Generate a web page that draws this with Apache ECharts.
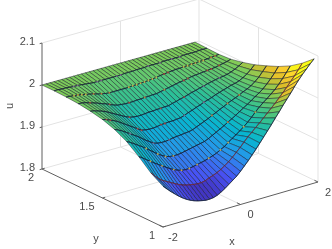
<!DOCTYPE html>
<html><head><meta charset="utf-8">
<style>html,body{margin:0;padding:0;background:#fff}#c{width:332px;height:249px;filter:blur(.35px)}</style>
<script src="https://cdn.jsdelivr.net/npm/echarts@6/dist/echarts.min.js"></script>
</head><body><div id="c"></div>
<script>
const xValues=[-2,-1.9,-1.8,-1.7,-1.6,-1.5,-1.4,-1.3,-1.2,-1.1,-1,-.9,-.8,-.7,-.6,-.5,-.4,-.3,-.2,-.1,0,.1,.2,.3,.4,.5,.6,.7,.8,.9,1,1.1,1.2,1.3,1.4,1.5,1.6,1.7,1.8,1.9];
const yValues=[2,1.9,1.8,1.7,1.6,1.5,1.4,1.3,1.2,1.1,1];
const u20=[2,2,2,2,2,2,2,2,2,2,2,2,2,2,2,2,2,2,2,2,2,2,2,2,2,2,2,2,2,2,2,2,2,2,2,2,2,2,2,2];
const u19=[2.000,2.000,1.999,1.999,1.998,1.997,1.997,1.996,1.995,1.994,1.993,1.993,1.993,1.993,1.993,1.993,1.993,1.993,1.994,1.994,1.994,1.995,1.995,1.995,1.996,1.996,1.996,1.996,1.997,1.997,1.997,1.997,1.997,1.998,1.998,1.998,1.998,1.999,1.999,1.999];
const u18=[1.999,1.998,1.997,1.996,1.994,1.992,1.990,1.988,1.985,1.983,1.981,1.980,1.980,1.980,1.980,1.980,1.980,1.981,1.981,1.982,1.982,1.983,1.984,1.985,1.987,1.988,1.989,1.990,1.991,1.991,1.992,1.992,1.993,1.993,1.994,1.994,1.995,1.996,1.997,1.998];
const u17=[1.997,1.996,1.994,1.991,1.988,1.985,1.981,1.978,1.974,1.970,1.967,1.966,1.965,1.965,1.965,1.966,1.966,1.967,1.967,1.968,1.968,1.970,1.972,1.974,1.976,1.978,1.980,1.981,1.983,1.985,1.986,1.987,1.988,1.989,1.990,1.991,1.993,1.995,1.997,2.000];
const u16=[1.993,1.991,1.988,1.985,1.981,1.976,1.971,1.966,1.961,1.956,1.952,1.950,1.949,1.949,1.950,1.951,1.951,1.952,1.952,1.953,1.953,1.956,1.958,1.961,1.963,1.966,1.969,1.971,1.974,1.976,1.979,1.981,1.983,1.985,1.986,1.988,1.991,1.995,2.000,2.006];
const u15=[1.987,1.984,1.980,1.976,1.971,1.965,1.959,1.953,1.947,1.941,1.935,1.933,1.932,1.932,1.933,1.935,1.935,1.936,1.936,1.937,1.938,1.941,1.945,1.948,1.952,1.955,1.959,1.962,1.965,1.969,1.972,1.975,1.978,1.981,1.983,1.986,1.991,1.997,2.005,2.014];
const u14=[1.977,1.973,1.968,1.962,1.956,1.950,1.944,1.937,1.930,1.924,1.918,1.915,1.914,1.914,1.915,1.917,1.918,1.919,1.920,1.921,1.923,1.927,1.931,1.935,1.939,1.944,1.948,1.953,1.957,1.962,1.966,1.970,1.974,1.979,1.983,1.988,1.995,2.003,2.014,2.025];
const u13=[1.962,1.957,1.951,1.945,1.939,1.932,1.925,1.918,1.911,1.905,1.900,1.897,1.896,1.896,1.897,1.899,1.901,1.903,1.905,1.907,1.909,1.913,1.918,1.923,1.928,1.933,1.939,1.944,1.950,1.956,1.962,1.968,1.974,1.981,1.987,1.994,2.003,2.013,2.024,2.037];
const u12=[1.940,1.934,1.927,1.921,1.914,1.908,1.902,1.896,1.890,1.885,1.881,1.878,1.877,1.877,1.879,1.881,1.883,1.885,1.888,1.891,1.895,1.900,1.905,1.912,1.919,1.925,1.932,1.939,1.947,1.956,1.966,1.975,1.983,1.990,1.998,2.006,2.016,2.027,2.039,2.052];
const u11=[1.915,1.905,1.896,1.889,1.884,1.879,1.874,1.869,1.865,1.862,1.860,1.858,1.857,1.857,1.859,1.863,1.866,1.870,1.875,1.881,1.888,1.896,1.905,1.914,1.924,1.934,1.942,1.951,1.959,1.968,1.977,1.986,1.995,2.005,2.015,2.025,2.036,2.047,2.059,2.072];
const u10=[1.897,1.888,1.879,1.871,1.863,1.856,1.850,1.845,1.841,1.838,1.836,1.834,1.834,1.835,1.838,1.843,1.849,1.856,1.863,1.870,1.879,1.889,1.899,1.910,1.921,1.933,1.945,1.957,1.969,1.982,1.994,2.007,2.019,2.031,2.044,2.056,2.067,2.077,2.087,2.096];
const uRows=[u20,u19,u18,u17,u16,u15,u14,u13,u12,u11,u10];
const xTicks=[-2,0,2], yTicks=[1,1.5,2], uTicks=[1.8,1.9,2,2.1];
const xTickLabels=['-2','0','2'], yTickLabels=['1','1.5','2'], uTickLabels=['1.8','1.9','2','2.1'];
// small specks where a second surface pokes through: row value y, column values x
const speckYellow=[[1.8,[-1.8,-1.7,-1.6,-1.5,-.4,-.3,-.2,-.1,0,.1,.2,.3,1,1.1,1.2,1.3,1.4,1.5]],[1.3,[-1.5,-1.2,-1,-.8]],[1.2,[-1.7,-1.4,-1.1,-.9,-.7,-.5,-.2,.1,.3,.7,1]]];
const speckOrange=[[1.8,[-1.3,-1.1,-.9,1.7,1.8]],[1.7,[-.3,.2]],[1.4,[.5,.9,1.2]],[1.3,[.6]]];
const speckRed=[[1.8,[.5,.6]],[1.7,[-1.7,-1.2,-.7,.7,.8,1.3,1.4,1.6]],[1.6,[-1,-.2,.4]],[1.5,[-1.9,-1.8,-1.1,-1,-.5,-.4]]];
const speckPurple=[[1.9,[-1.5,-1.4,-.9,-.8,-.4,-.3,.4,.7,1,1.2]],[1.6,[.9,1.3]],[1.5,[.1,.6]],[1.4,[-1.6,-1,-.6]]];

const floorL=[42,169],floorF=[163,227],floorR=[318,182],floorB=[199,125],pxPerU=420;
function project(x,y,u){
  const t=(x+2)/4,s=2-y;
  const w=[(1-t)*(1-s),(1-t)*s,t*s,t*(1-s)];
  const c=[floorL,floorF,floorR,floorB];
  let px=0,py=0;
  c.forEach((p,i)=>{px+=w[i]*p[0];py+=w[i]*p[1];});
  return [px,py-(u-1.8)*pxPerU];
}
const parula=['#3e26a8','#4852f4','#2796eb','#08b5d0','#2cc097','#80cc59','#dcbd29','#fccf30','#f9fb15'];
const uMin=1.834,uMid=2,uTop=2.06,tMid=.625;
function colorOf(u){
  const t=u<uMid?(u-uMin)/(uMid-uMin)*tMid:tMid+(u-uMid)/(uTop-uMid)*(1-tMid);
  return echarts.color.lerp(Math.min(1,Math.max(0,t)),parula);
}

const cells=[];
for(let j=0;j<yValues.length-1;j++)for(let i=xValues.length-2;i>=0;i--){
  cells.push([i,j]);
}
function line(pts,color,width,z){return {type:'line',data:pts.map(p=>project(p[0],p[1],p[2])),showSymbol:false,silent:true,z:z,lineStyle:{color:color,width:width},animation:false};}
const grey='#e3e3e3',axisC='#5f5f5f';
const series=[];
[[[-2,2,2.1],[2,2,2.1],[2,1,2.1]],[[2,2,1.8],[2,2,2.1]],[[2,1,1.8],[2,1,2.1]],[[-2,2,1.8],[2,2,1.8],[2,1,1.8]],
 [[0,2,1.8],[0,2,2.1]],[[2,1.5,1.8],[2,1.5,2.1]],[[0,2,1.8],[0,1,1.8]],[[-2,1.5,1.8],[2,1.5,1.8]],
 [[-2,2,1.9],[2,2,1.9],[2,1,1.9]],[[-2,2,2],[2,2,2],[2,1,2]]].forEach(p=>series.push(line(p,grey,1,1)));
[[[-2,2,1.8],[-2,2,2.1]],[[-2,2,1.8],[-2,1,1.8]],[[-2,1,1.8],[2,1,1.8]]].forEach(p=>series.push(line(p,axisC,1,2)));
uTicks.forEach(u=>series.push(line([[-2,2,u],[-2.06,2,u]],axisC,1,2)));
xTicks.forEach(x=>series.push(line([[x,1,1.8],[x,1.03,1.8]],axisC,1,2)));
yTicks.forEach(y=>series.push(line([[-2,y,1.8],[-1.93,y,1.8]],axisC,1,2)));

series.push({type:'custom',coordinateSystem:'cartesian2d',z:3,silent:true,animation:false,progressive:0,
  data:cells,
  renderItem:function(params,api){
    const i=api.value(0),j=api.value(1);
    const u00=uRows[j][i],u10=uRows[j][i+1],u01=uRows[j+1][i],u11=uRows[j+1][i+1];
    const pts=[project(xValues[i],yValues[j],u00),project(xValues[i+1],yValues[j],u10),project(xValues[i+1],yValues[j+1],u11),project(xValues[i],yValues[j+1],u01)].map(p=>api.coord(p));
    return {type:'polygon',shape:{points:pts},style:{fill:colorOf((u00+u10+u01+u11)/4),stroke:'rgba(10,10,25,.72)',lineWidth:.6}};
  }});
yValues.forEach((y,j)=>{ if(j>0) series.push(line(xValues.map((x,i)=>[x,y,uRows[j][i]]),j==9?'#8a2a3a':'#10203a',.7,4)); });
function specks(list,color){
  const data=[];
  list.forEach(r=>{const j=yValues.indexOf(r[0]);r[1].forEach(x=>{const i=xValues.indexOf(x);if(i>=0)data.push(project(x,r[0],uRows[j][i]));});});
  series.push({type:'scatter',data:data,symbolSize:1.9,silent:true,z:5,animation:false,itemStyle:{color:color}});
}
specks(speckYellow,'#ecc64a');specks(speckOrange,'#e08a3c');specks(speckRed,'#c0453c');specks(speckPurple,'#8f6f9c');

const textItems=[];
xTicks.forEach((x,i)=>{const p=project(x,1,1.8);textItems.push([p[0]+10,p[1]+10.5,xTickLabels[i],'center']);});
yTicks.forEach((y,i)=>{const p=project(-2,y,1.8);textItems.push([p[0]-8,p[1]+9,yTickLabels[i],'right']);});
uTicks.forEach((u,i)=>{const p=project(-2,2,u);textItems.push([p[0]-7,p[1]-1,uTickLabels[i],'right']);});
textItems.push([96,239,'y','center'],[232,242,'x','center']);
series.push({type:'custom',coordinateSystem:'cartesian2d',z:6,silent:true,animation:false,data:textItems.map((t,i)=>[t[0],t[1],i]),
  renderItem:function(params,api){
    const t=textItems[api.value(2)],c=api.coord([t[0],t[1]]);
    return {type:'text',x:c[0],y:c[1],style:{text:t[2],fill:'#4a4a4a',font:'11px "Liberation Sans"',textAlign:t[3],textVerticalAlign:'middle'}};
  }});
series.push({type:'custom',coordinateSystem:'cartesian2d',z:6,silent:true,animation:false,data:[[10,106]],
  renderItem:function(params,api){
    const c=api.coord([api.value(0),api.value(1)]);
    return {type:'text',x:c[0],y:c[1],rotation:Math.PI/2,style:{text:'u',fill:'#4a4a4a',font:'11px "Liberation Sans"',textAlign:'center',textVerticalAlign:'middle'}};
  }});
const chart=echarts.init(document.getElementById('c'));
chart.setOption({animation:false,
  grid:{left:0,right:0,top:0,bottom:0},
  xAxis:{type:'value',min:0,max:332,show:false},
  yAxis:{type:'value',min:0,max:249,inverse:true,show:false},
  series:series});
</script></body></html>
